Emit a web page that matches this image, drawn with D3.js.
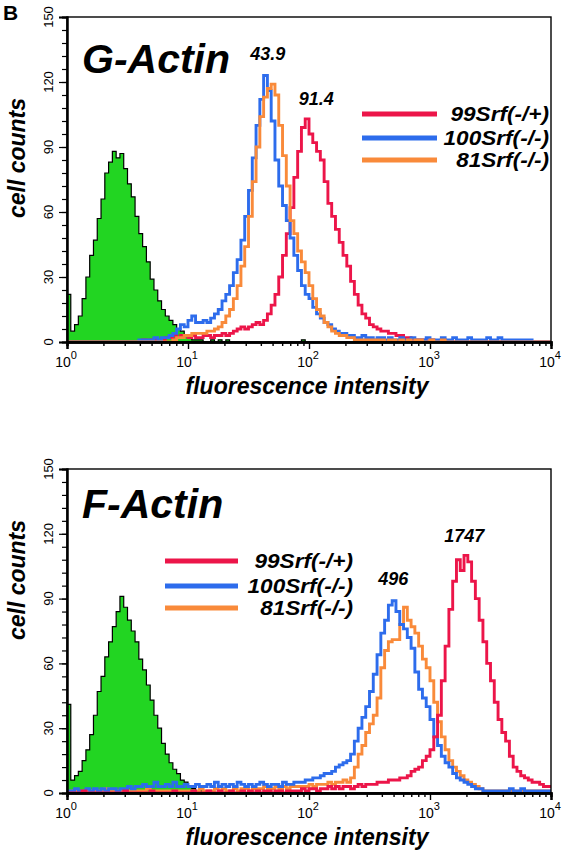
<!DOCTYPE html>
<html><head><meta charset="utf-8">
<script src="https://cdn.jsdelivr.net/npm/d3@7"></script>
<style>body{margin:0;background:#fff}</style>
</head><body>
<svg id="chart" width="570" height="852"></svg>
<script>
// ---------------- data ----------------
const binsPerDecade = 32;            // histogram channels per decade, 10^0 .. 10^4
const xTickDecades = [0, 1, 2, 3, 4];
const yTickLabels = [0, 30, 60, 90, 120, 150];
const seriesNames = ["99Srf(-/+)", "100Srf(-/-)", "81Srf(-/-)"];
const seriesColors = ["#ec1549", "#2d6cec", "#f98a3a"];

const gActinControl = [
 22,5,8,12,20,30,40,47,57,66, 78,83,88,85,87,80,73,67,58,50,
 44,37,29,24,19,15,12,10,8,6, 5,3,2,1,1,1,0,0,1,0,
 1,0,1,0,0,0,0,0,0,0, 0,0,0,0,0,0,0,0,0,0,
 0,0,1,0,0,0,0,0,0,0, 0,0,0,0,0,0,0,0,0,0,
 0,1,0,0,0,0,0,0,0,0, 0,0,0,0,0,0,0,1,0,0,
 0,0,0,0,0,0,0,1,0,0, 0,0,0,0,0,0,0,0,0,0,
 0,0,0,0,0,0,0,0];
const gActin99 = [
 0,0,0,0,0,0,0,0,0,0, 0,0,0,0,0,0,0,0,0,0,
 1,0,1,1,0,1,2,2,3,2, 3,3,2,3,2,2,3,3,2,3,
 3,4,3,4,5,6,7,6,7,8, 9,8,10,13,17,22,30,40,50,62,
 76,88,99,103,96,92,88,84,74,64, 58,52,46,40,35,28,22,17,13,11,
 8,7,6,5,5,4,4,3,3,2, 2,1,1,1,1,0,1,0,0,1,
 0,0,0,0,0,0,0,0,0,0, 0,0,0,0,0,0,0,0,0,0,
 0,0,0,0,0,0,0,0];
const gActin100 = [
 0,0,0,0,0,0,0,0,0,0, 0,0,0,0,0,0,0,0,0,1,
 1,1,1,2,1,2,2,3,4,6, 8,7,10,12,9,9,10,9,11,13,
 15,19,22,26,32,38,47,58,70,85, 100,112,123,116,102,84,72,63,56,48,
 40,33,26,22,20,16,13,11,9,8, 6,5,4,4,3,3,2,2,3,2,
 2,1,2,2,1,2,1,1,2,1, 1,2,1,1,1,2,1,1,1,2,
 1,1,2,1,1,1,2,1,1,1, 1,2,1,1,2,1,1,1,1,1,
 1,1,1,0,0,0,0,0];
const gActin81 = [
 0,0,0,0,0,0,0,0,0,0, 0,0,0,0,0,0,0,0,0,0,
 0,0,0,0,0,0,0,0,1,2, 2,3,3,4,4,4,4,5,5,6,
 7,9,12,15,20,26,35,44,58,74, 90,104,113,117,119,114,100,86,72,56,
 50,42,37,32,26,20,15,12,9,7, 5,4,3,3,2,2,1,1,1,1,
 1,1,1,1,0,1,1,0,1,0, 1,0,1,1,0,0,1,0,0,1,
 0,0,0,0,0,0,0,0,0,0, 0,0,0,0,0,0,0,0,0,0,
 0,0,0,0,0,0,0,0];

const fActinControl = [
 41,6,8,10,15,20,27,36,47,54, 63,70,77,84,91,86,80,75,70,62,
 57,50,43,36,30,23,18,14,11,9, 6,5,3,2,1,1,0,0,0,0,
 0,0,0,0,0,0,0,0,0,0, 0,0,0,0,0,0,0,0,0,0,
 0,0,0,0,0,0,0,0,0,0, 0,0,0,0,0,0,0,0,0,0,
 0,0,0,0,0,0,0,0,0,0, 0,0,0,0,0,0,0,0,0,0,
 0,0,0,0,0,0,0,0,0,0, 0,0,0,0,0,0,0,0,0,0,
 0,0,0,0,0,0,0,0];
const fActin99 = [
 0,0,0,0,1,0,0,0,0,0, 0,0,0,0,0,1,0,0,0,0,
 0,0,1,0,0,0,0,0,1,0, 0,0,0,1,0,0,0,1,0,0,
 1,0,0,1,0,0,1,0,1,0, 1,0,1,1,0,1,1,0,1,1,
 1,1,2,1,2,2,1,2,2,3, 2,3,2,3,3,2,3,4,3,4,
 4,4,5,5,5,6,6,6,7,7, 8,10,11,12,15,17,20,26,36,52,
 68,85,98,108,103,110,107,98,90,80, 70,60,52,42,34,28,24,17,12,10,
 8,7,6,5,5,4,3,3];
const fActin100 = [
 1,1,2,1,1,2,1,2,1,2, 1,2,2,1,2,2,3,2,3,3,
 4,3,3,5,3,3,4,3,5,3, 3,4,3,3,4,3,3,4,3,5,
 3,4,3,4,3,5,4,3,4,3, 4,5,4,3,4,4,3,5,4,4,
 5,5,5,6,6,7,7,8,9,9, 10,12,13,14,15,18,24,30,35,40,
 47,55,64,74,80,87,89,84,78,76, 72,67,56,48,44,40,34,26,22,17,
 14,12,9,7,6,5,4,3,2,2, 1,1,1,1,1,1,1,2,1,1,
 2,1,1,1,1,1,1,1];
const fActin81 = [
 0,1,1,0,1,1,1,1,1,1, 2,1,1,1,1,1,1,1,1,1,
 1,2,1,1,1,1,1,1,1,1, 1,1,1,1,1,2,1,1,1,2,
 1,2,1,1,2,1,2,2,1,2, 2,2,3,2,2,3,2,3,2,3,
 3,3,3,3,4,3,4,4,4,5, 4,5,5,6,5,7,12,18,22,28,
 32,36,44,58,66,70,71,71,78,86, 80,77,74,68,62,58,52,42,33,26,
 20,15,12,10,8,6,5,4,3,2, 1,1,1,1,1,1,1,1,1,1,
 1,1,1,1,1,1,1,1];

const gPeakLabels = ["43.9", "91.4"];
const gPeakValues = [43.9, 91.4];
const fPeakLabels = ["496", "1747"];
const fPeakValues = [496, 1747];

// ---------------- drawing ----------------
const FONT = "'Liberation Sans', Arial, Helvetica, sans-serif";
const svg = d3.select("#chart");

svg.append("text").attr("x", 3).attr("y", 20)
  .attr("font-family", FONT).attr("font-weight", "bold").attr("font-size", 21)
  .text("B");

const x = d3.scaleLog().domain([1, 1e4]).range([67, 551]);

function histPoints(vals) {
  const pts = vals.map((v, i) => [Math.pow(10, i / binsPerDecade), v]);
  pts.push([1e4, vals[vals.length - 1]]);
  return pts;
}

function drawPanel(cfg) {
  const y = d3.scaleLinear().domain([0, 150]).range([cfg.bottom, cfg.top]);
  const g = svg.append("g");
  const clipId = "clip" + cfg.id;
  svg.append("clipPath").attr("id", clipId).append("rect")
    .attr("x", 67).attr("y", cfg.top).attr("width", 551 - 67).attr("height", cfg.bottom - cfg.top);

  const plot = g.append("g").attr("clip-path", `url(#${clipId})`);

  const area = d3.area().curve(d3.curveStepAfter)
    .x(d => x(d[0])).y0(y(0)).y1(d => y(d[1]));
  const line = d3.line().curve(d3.curveStepAfter)
    .x(d => x(d[0])).y(d => y(d[1]));
  plot.append("path").datum(histPoints(cfg.control))
    .attr("d", area).attr("fill", "#22d522");
  plot.append("path").datum(histPoints(cfg.control))
    .attr("d", line).attr("fill", "none").attr("stroke", "#000").attr("stroke-width", 1.2);

  cfg.order.forEach(k => {
    plot.append("path").datum(histPoints(cfg.series[k]))
      .attr("d", line).attr("fill", "none")
      .attr("stroke", seriesColors[k]).attr("stroke-width", 2.9)
      .attr("stroke-linejoin", "miter");
  });

  // frame
  g.append("rect").attr("x", 67).attr("y", cfg.top).attr("width", 551 - 67).attr("height", cfg.bottom - cfg.top)
    .attr("fill", "none").attr("stroke", "#000").attr("stroke-width", 1.4);

  // y axis
  const yMinor = d3.range(0, 151, 6);
  const ya = g.append("g").attr("transform", "translate(67,0)")
    .call(d3.axisLeft(y).tickValues(yMinor).tickSize(5).tickFormat(""));
  const yb = g.append("g").attr("transform", "translate(67,0)")
    .call(d3.axisLeft(y).tickValues(yTickLabels).tickSize(8).tickFormat(""));
  [ya, yb].forEach(a => { a.select(".domain").attr("stroke-width", 2); a.selectAll("line").attr("stroke-width", 1.2); });
  g.selectAll(".ylab").data(yTickLabels).enter().append("text")
    .attr("transform", d => `translate(53,${y(d)}) rotate(-90)`)
    .attr("text-anchor", "middle").attr("font-family", FONT).attr("font-size", 13)
    .text(d => d);

  // x axis
  const xMinor = [];
  for (let dec = 0; dec < 4; dec++) for (let m = 2; m <= 9; m++) xMinor.push(m * Math.pow(10, dec));
  const xa = g.append("g").attr("transform", `translate(0,${cfg.bottom})`)
    .call(d3.axisBottom(x).tickValues(xMinor).tickSize(4).tickFormat(""));
  const xb = g.append("g").attr("transform", `translate(0,${cfg.bottom})`)
    .call(d3.axisBottom(x).tickValues(xTickDecades.map(p => Math.pow(10, p))).tickSize(7).tickFormat(""));
  [xa, xb].forEach(a => { a.select(".domain").attr("stroke-width", 2.4); a.selectAll("line").attr("stroke-width", 1.4); });
  xTickDecades.forEach(p => {
    const t = g.append("text").attr("x", x(Math.pow(10, p)) - 1).attr("y", cfg.bottom + 25)
      .attr("text-anchor", "middle").attr("font-family", FONT).attr("font-size", 14);
    t.append("tspan").text("10");
    t.append("tspan").attr("dy", -8).attr("font-size", 11).text(p);
  });

  // axis titles
  g.append("text").attr("x", 307).attr("y", cfg.bottom + 52).attr("text-anchor", "middle")
    .attr("font-family", FONT).attr("font-weight", "bold").attr("font-style", "italic").attr("font-size", 23)
    .text("fluorescence intensity");
  g.append("text").attr("transform", `translate(25,${cfg.ylabelY}) rotate(-90)`).attr("text-anchor", "middle")
    .attr("font-family", FONT).attr("font-weight", "bold").attr("font-style", "italic").attr("font-size", 23)
    .text("cell counts");

  // title
  g.append("text").attr("x", 82).attr("y", cfg.titleY)
    .attr("font-family", FONT).attr("font-weight", "bold").attr("font-style", "italic").attr("font-size", 41)
    .text(cfg.title);

  // peak labels
  cfg.peakLabels.forEach((lab, i) => {
    g.append("text").attr("x", x(cfg.peakValues[i]) + cfg.peakDx[i]).attr("y", cfg.peakY[i])
      .attr("text-anchor", "middle").attr("font-family", FONT).attr("font-weight", "bold")
      .attr("font-style", "italic").attr("font-size", 18).text(lab);
  });

  // legend (text horizontally stretched to the reference's wide lettering)
  seriesNames.forEach((name, i) => {
    const ly = cfg.legendY[i];
    g.append("line").attr("x1", cfg.legendX1).attr("x2", cfg.legendX2).attr("y1", ly).attr("y2", ly)
      .attr("stroke", seriesColors[i]).attr("stroke-width", 5);
    g.append("text").attr("transform", `translate(${cfg.legendTextX},${ly + 7}) scale(1.13,1)`)
      .attr("text-anchor", "end")
      .attr("font-family", FONT).attr("font-weight", "bold").attr("font-style", "italic").attr("font-size", 20)
      .text(name);
  });
}

drawPanel({
  id: "g", top: 17, bottom: 342, title: "G-Actin", titleY: 73, ylabelY: 158,
  control: gActinControl, series: [gActin99, gActin100, gActin81], order: [0, 1, 2],
  peakLabels: gPeakLabels, peakValues: gPeakValues, peakDx: [2, 12], peakY: [60, 105],
  legendY: [114, 138, 160], legendX1: 362, legendX2: 437, legendTextX: 549
});
drawPanel({
  id: "f", top: 469, bottom: 793, title: "F-Actin", titleY: 518, ylabelY: 580,
  control: fActinControl, series: [fActin99, fActin100, fActin81], order: [2, 1, 0],
  peakLabels: fPeakLabels, peakValues: fPeakValues, peakDx: [0, 5], peakY: [585, 542],
  legendY: [561, 586, 608], legendX1: 165, legendX2: 238, legendTextX: 353
});
</script>
</body></html>
